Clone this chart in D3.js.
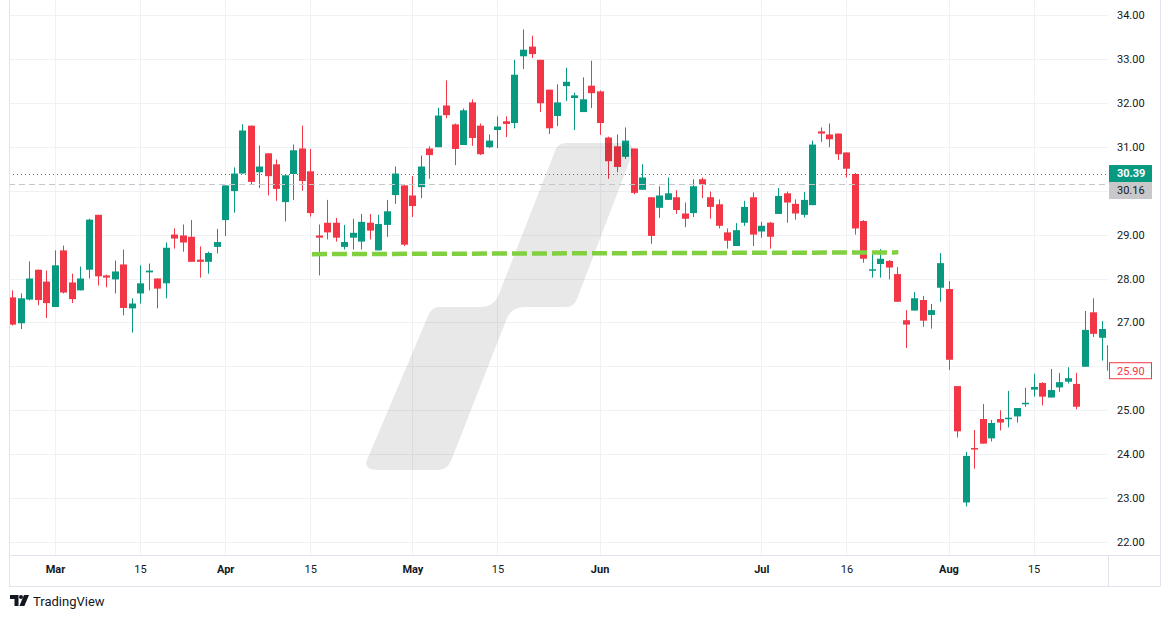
<!DOCTYPE html>
<html>
<head>
<meta charset="utf-8">
<script src="https://cdn.jsdelivr.net/npm/d3@7"></script>
<style>
body { margin: 0; background: #fff; }
svg { display: block; font-family: Roboto, "Liberation Sans", sans-serif; }
</style>
</head>
<body>
<svg width="1171" height="618"></svg>
<script>
// daily candles, 23 Feb .. 27 Aug (trading days only)
var opens = [27.57,26.98,27.52,28.20,27.93,27.35,28.64,27.91,27.73,28.20,29.45,28.07,27.98,28.32,27.32,27.66,28.14,28.00,27.89,29.00,
  28.98,28.95,28.43,28.38,28.72,29.33,29.99,30.39,31.48,30.42,30.85,30.60,29.74,30.38,30.96,30.44,28.98,29.27,29.27,28.72,
  28.93,28.84,29.27,28.64,29.22,29.90,30.12,29.89,30.08,30.96,30.99,31.94,31.51,31.04,32.01,31.48,30.99,31.38,31.58,31.54,
  33.06,33.28,32.98,32.30,31.70,32.38,32.11,31.79,32.39,32.26,31.21,31.01,30.77,30.96,30.02,29.85,29.61,29.79,29.85,29.48,
  29.49,30.26,29.85,29.69,29.05,28.74,29.27,29.85,29.07,29.27,29.47,29.94,29.70,29.45,29.67,31.35,31.28,31.30,30.87,30.38,
  29.31,28.18,28.33,28.40,28.10,27.05,27.27,27.51,27.17,27.79,27.76,25.55,22.90,24.14,24.80,24.36,24.80,24.81,24.86,25.15,
  25.47,25.62,25.29,25.52,25.65,25.60,25.99,27.23,26.65,26.48];
var highs = [27.73,27.66,28.39,28.20,28.18,28.64,28.75,28.11,28.27,29.36,29.45,28.09,28.41,28.66,27.55,28.30,28.34,28.00,28.82,29.14,
  29.23,29.33,28.73,28.61,29.13,30.12,30.53,31.51,31.48,31.03,30.85,30.71,30.35,31.05,31.48,30.95,29.23,29.79,29.38,29.22,
  29.36,29.47,29.47,29.45,29.79,30.55,30.12,30.33,30.80,31.01,31.89,32.51,31.53,31.87,32.08,31.53,31.28,31.69,31.69,32.98,
  33.67,33.53,32.98,32.30,32.42,32.80,32.23,32.58,32.96,32.28,31.23,31.28,31.44,30.96,30.60,29.85,30.10,30.30,30.01,29.73,
  30.26,30.30,29.98,29.80,29.14,29.26,29.77,29.96,29.29,29.29,30.06,29.98,29.80,29.97,31.14,31.44,31.53,31.30,30.87,30.40,
  29.33,28.58,28.67,28.42,28.26,27.28,27.69,27.60,27.42,28.58,27.94,25.55,24.05,24.55,25.14,24.78,25.00,25.44,25.05,25.51,
  25.83,25.64,25.94,25.85,25.98,25.85,27.26,27.55,27.03,26.50];
var lows = [26.93,26.85,27.50,27.39,27.10,27.35,27.66,27.44,27.73,28.00,27.84,27.80,27.66,27.16,26.77,27.43,27.73,27.32,27.55,28.68,
  28.61,28.38,28.02,28.11,28.57,28.97,29.50,30.39,30.13,30.06,29.89,29.77,29.30,29.79,30.00,29.41,28.07,28.89,28.84,28.66,
  28.66,28.66,28.89,28.64,28.95,29.70,28.74,29.40,29.83,30.27,30.99,31.65,30.58,31.04,31.02,30.81,30.97,30.97,31.22,31.42,
  32.77,33.02,31.79,31.29,31.47,32.04,31.38,31.79,31.88,31.27,30.27,30.42,30.72,29.92,30.02,28.79,29.38,29.79,29.47,29.17,
  29.40,29.83,29.36,29.14,28.68,28.74,29.20,28.74,28.93,28.68,29.47,29.27,29.34,29.39,29.67,31.11,30.99,30.70,30.30,29.00,
  28.36,28.02,28.02,27.98,27.47,26.42,27.27,26.90,26.86,27.47,25.92,24.38,22.81,23.67,24.24,24.29,24.54,24.61,24.72,25.08,
  25.31,25.11,25.29,25.42,25.61,25.02,25.99,26.67,26.13,25.86];
var closes = [26.95,27.55,28.00,27.51,27.44,28.30,27.68,27.53,28.00,29.34,28.05,28.02,28.16,27.33,27.43,27.89,28.18,27.77,28.70,28.91,
  28.82,28.38,28.38,28.58,28.83,30.12,30.39,31.37,30.20,30.55,30.33,30.04,30.35,30.92,30.22,29.49,28.93,29.05,28.93,28.83,
  29.04,29.29,29.09,29.24,29.53,30.39,28.77,29.65,30.55,30.81,31.71,31.72,30.95,31.83,31.20,30.83,31.14,31.46,31.52,32.64,
  33.21,33.11,31.99,31.42,32.01,32.48,32.17,32.08,32.22,31.54,30.67,30.54,31.14,29.95,30.30,28.97,29.89,29.94,29.56,29.36,
  30.10,30.13,29.63,29.20,28.86,29.10,29.63,29.00,29.20,28.95,29.88,29.73,29.48,29.79,31.05,31.30,31.17,30.83,30.50,29.14,
  28.45,28.21,28.45,28.25,27.47,26.95,27.55,27.04,27.28,28.35,26.15,24.52,23.96,24.11,24.24,24.71,24.72,24.83,25.05,25.17,
  25.53,25.31,25.46,25.64,25.73,25.08,26.83,26.74,26.85,25.90];

var priceTicks = [22, 23, 24, 25, 26, 27, 28, 29, 30, 31, 32, 33, 34];
var timeTickIndex = [5, 15, 25, 35, 47, 57, 69, 88, 98, 110, 120];
var timeTickLabels = ["Mar", "15", "Apr", "15", "May", "15", "Jun", "Jul", "16", "Aug", "15"];
var monthLabels = ["Mar", "Apr", "May", "Jun", "Jul", "Aug"];

var markA = 30.39, markB = 30.16;
var trendIndex = [35.2, 104.1];
var trendPrice = [28.555, 28.595];

var green = "#089981", red = "#f23645", gridColor = "#f0f1f4", borderColor = "#e0e3eb", textColor = "#131722";
var left = 9, plotRight = 1108, axisRight = 1160, plotBottom = 555, axisBottom = 586;

var svg = d3.select("svg");

var x = d3.scaleLinear().domain([0, 129]).range([12.4, 1110.2]);
var y = d3.scaleLinear().domain([22, 34]).range([542, 15]);

svg.append("defs").append("clipPath").attr("id", "plot")
    .append("rect").attr("x", left).attr("y", 0)
    .attr("width", plotRight - left).attr("height", plotBottom);

// grid
var grid = svg.append("g");
grid.selectAll(".h").data(priceTicks).enter().append("line")
    .attr("x1", left).attr("x2", plotRight)
    .attr("y1", d => Math.round(y(d)) + 0.5).attr("y2", d => Math.round(y(d)) + 0.5)
    .attr("stroke", gridColor);
grid.selectAll(".v").data(timeTickIndex).enter().append("line")
    .attr("x1", d => Math.round(x(d)) + 0.5).attr("x2", d => Math.round(x(d)) + 0.5)
    .attr("y1", 0).attr("y2", plotBottom)
    .attr("stroke", gridColor);

var plot = svg.append("g").attr("clip-path", "url(#plot)");

// candles
var idx = d3.range(closes.length);
var candles = plot.selectAll(".c").data(idx).enter().append("g")
    .attr("fill", i => closes[i] >= opens[i] ? green : red)
    .attr("stroke", i => closes[i] >= opens[i] ? green : red);
candles.append("line")
    .attr("x1", i => Math.round(x(i)) + 0.5).attr("x2", i => Math.round(x(i)) + 0.5)
    .attr("y1", i => y(highs[i])).attr("y2", i => y(lows[i]));
candles.append("rect")
    .attr("stroke", "none")
    .attr("x", i => Math.round(x(i)) - 3).attr("width", 7)
    .attr("y", i => y(Math.max(opens[i], closes[i])))
    .attr("height", i => Math.max(1.5, Math.abs(y(opens[i]) - y(closes[i]))));

// watermark
plot.append("path")
    .attr("d", "M378,470 L438,470 Q447,470 451,461 L507,318 Q512,307 525,307 L566,307 Q574,307 577,299 " +
               "L632,155 Q636,143 624,143 L566,143 Q558,143 555,151 L499,294 Q494,307 480,307 L440,307 " +
               "Q431,307 428,316 L367,460 Q363,470 378,470 Z")
    .attr("fill", "rgba(0,0,0,0.09)");

// price lines
plot.append("line")
    .attr("x1", left).attr("x2", plotRight)
    .attr("y1", Math.round(y(markA)) + 0.5).attr("y2", Math.round(y(markA)) + 0.5)
    .attr("stroke", green).attr("stroke-dasharray", "1 3");
plot.append("line")
    .attr("x1", left).attr("x2", plotRight)
    .attr("y1", Math.round(y(markB)) + 0.5).attr("y2", Math.round(y(markB)) + 0.5)
    .attr("stroke", "#c4c6cc").attr("stroke-dasharray", "6 4");

// drawn trend line
plot.append("line")
    .attr("x1", x(trendIndex[0])).attr("x2", x(trendIndex[1]))
    .attr("y1", y(trendPrice[0])).attr("y2", y(trendPrice[1]))
    .attr("stroke", "#80d03f").attr("stroke-width", 4.5)
    .attr("stroke-dasharray", "15 5");

// borders
var b = svg.append("g").attr("stroke", borderColor).attr("fill", "none");
b.append("line").attr("x1", left).attr("x2", axisRight).attr("y1", plotBottom + 0.5).attr("y2", plotBottom + 0.5);
b.append("line").attr("x1", left).attr("x2", axisRight).attr("y1", axisBottom + 0.5).attr("y2", axisBottom + 0.5);
b.append("line").attr("x1", left + 0.5).attr("x2", left + 0.5).attr("y1", 0).attr("y2", axisBottom);
b.append("line").attr("x1", axisRight + 0.5).attr("x2", axisRight + 0.5).attr("y1", 0).attr("y2", axisBottom);
b.append("line").attr("x1", plotRight + 0.5).attr("x2", plotRight + 0.5).attr("y1", plotBottom).attr("y2", axisBottom);

// price tags on the axis
var lastY = y(closes[closes.length - 1]);
var aY = y(markA), bY = Math.max(y(markB), aY + 17);
var tagYs = [aY, bY, lastY];

// price axis, hiding tick labels that a tag covers
var yAxis = svg.append("g").attr("transform", "translate(" + plotRight + ",0)")
    .call(d3.axisRight(y).tickValues(priceTicks).tickFormat(d3.format(".2f")).tickSize(0).tickPadding(9));
yAxis.select(".domain").remove();
yAxis.selectAll(".tick").filter(d => tagYs.some(t => Math.abs(y(d) - t) < 14)).remove();
yAxis.selectAll("text").attr("fill", textColor).style("font-size", "11px")
    .style("font-family", "Roboto, 'Liberation Sans', sans-serif");

// time axis
var xAxis = svg.append("g").attr("transform", "translate(0," + plotBottom + ")")
    .call(d3.axisBottom(x).tickValues(timeTickIndex).tickFormat((d, i) => timeTickLabels[i]).tickSize(0).tickPadding(10));
xAxis.select(".domain").remove();
xAxis.selectAll("text").attr("fill", textColor).style("font-size", "11px")
    .style("font-family", "Roboto, 'Liberation Sans', sans-serif")
    .style("font-weight", (d, i) => monthLabels.indexOf(timeTickLabels[i]) >= 0 ? "bold" : "normal");

var tags = svg.append("g").style("font-size", "11px");
tags.append("rect").attr("x", plotRight + 1).attr("y", aY - 8.5).attr("width", 43).attr("height", 17).attr("fill", green);
tags.append("text").attr("x", plotRight + 9).attr("y", aY).attr("dy", "0.35em")
    .attr("fill", "#fff").style("font-weight", "bold").text(d3.format(".2f")(markA));
tags.append("rect").attr("x", plotRight + 1).attr("y", bY - 8.5).attr("width", 43).attr("height", 17).attr("fill", "#c8c8ca");
tags.append("text").attr("x", plotRight + 9).attr("y", bY).attr("dy", "0.35em")
    .attr("fill", textColor).text(d3.format(".2f")(markB));
tags.append("rect").attr("x", plotRight + 1.5).attr("y", lastY - 8).attr("width", 42).attr("height", 16)
    .attr("fill", "#fff").attr("stroke", red);
tags.append("text").attr("x", plotRight + 9).attr("y", lastY).attr("dy", "0.35em")
    .attr("fill", red).text(d3.format(".2f")(closes[closes.length - 1]));

// logo
var logo = svg.append("g").attr("fill", textColor);
logo.append("path").attr("d", "M10,595h8.5v11h-4v-7h-4.5z");
logo.append("circle").attr("cx", 21).attr("cy", 597).attr("r", 2);
logo.append("path").attr("d", "M24,595h5l-4.6,11h-5z");
logo.append("text").attr("x", 33).attr("y", 601).attr("dy", "0.35em")
    .style("font-size", "13px").text("TradingView");
</script>
</body>
</html>
